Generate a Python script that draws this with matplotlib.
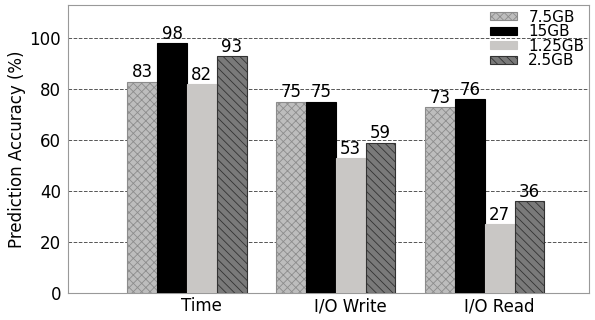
import matplotlib

matplotlib.use("Agg")

import matplotlib.pyplot as plt
import numpy as np

categories = ["Time", "I/O Write", "I/O Read"]
sizes = ["7.5GB", "15GB", "1.25GB", "2.5GB"]
acc_7_5gb = [83, 75, 73]
acc_15gb = [98, 75, 76]
acc_1_25gb = [82, 53, 27]
acc_2_5gb = [93, 59, 36]

STYLES = [
    dict(color="#bdbdbd", edgecolor="#8c8c8c", hatch="xxxx"),
    dict(color="#000000", edgecolor="#000000", hatch=None),
    dict(color="#c9c7c5", edgecolor="#c9c7c5", hatch=None),
    dict(color="#7a7a7a", edgecolor="#333333", hatch="\\\\\\\\"),
]

plt.rcParams["hatch.linewidth"] = 0.6

fig = plt.figure(figsize=(5.95, 3.2), dpi=100)
ax = fig.add_axes([0.114, 0.084, 0.876, 0.9])

ind = np.arange(len(categories))
width = 0.2
series = [acc_7_5gb, acc_15gb, acc_1_25gb, acc_2_5gb]
for i, (vals, label, st) in enumerate(zip(series, sizes, STYLES)):
    bars = ax.bar(ind + i * width, vals, width, align="edge", label=label,
                  color=st["color"], edgecolor=st["edgecolor"], hatch=st["hatch"],
                  linewidth=0.8, zorder=3)
    for b, v in zip(bars, vals):
        ax.text(b.get_x() + b.get_width() / 2, v + 0.2, str(v), ha="center", va="bottom",
                fontsize=12, zorder=4)

ax.set_xlim(-0.4, 3.1)
ax.set_ylim(0, 113)
ax.set_xticks(ind + 0.5)
ax.set_xticklabels(categories, fontsize=12)
ax.set_yticks([0, 20, 40, 60, 80, 100])
ax.tick_params(axis="y", labelsize=12, length=0, pad=5)
ax.tick_params(axis="x", length=0, pad=3)
ax.set_ylabel("Prediction Accuracy (%)", fontsize=12, labelpad=2)
ax.yaxis.grid(True, linestyle="--", color="#555555", linewidth=0.7, zorder=0)
for sp in ax.spines.values():
    sp.set_color("#999999")

ax.legend(loc="upper right", frameon=False, fontsize=11, labelspacing=-0.03,
          handlelength=1.75, handleheight=0.45, borderaxespad=0.2, handletextpad=0.75,
          borderpad=0.1)

fig.savefig("out.png", dpi=100, facecolor="white")
